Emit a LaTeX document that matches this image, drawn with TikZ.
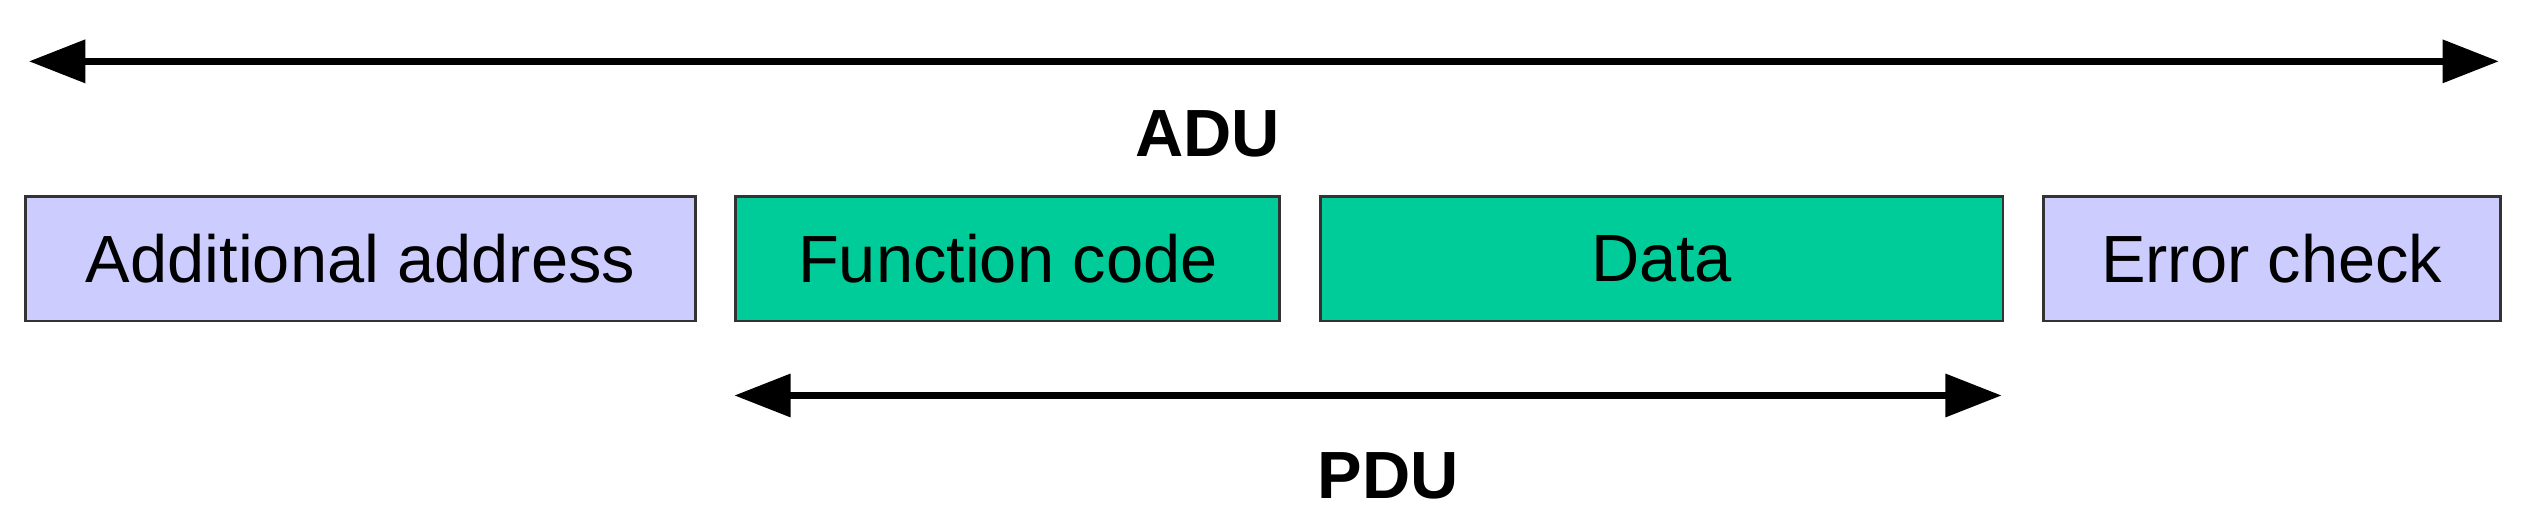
\documentclass[tikz,border=0pt]{standalone}
\usepackage{fontspec}
\setmainfont{Liberation Sans}
\usetikzlibrary{arrows.meta}
\definecolor{lav}{HTML}{CCCCFF}
\definecolor{grn}{HTML}{00CC99}
\begin{document}
\begin{tikzpicture}[x=0.01614cm,y=-0.01614cm,
  box/.style={draw=black!80,line width=0.8pt,inner sep=0pt,anchor=north west,font=\fontsize{19}{22}\selectfont},
  arr/.style={line width=1.8pt,{Triangle[length=16pt,width=12pt]}-{Triangle[length=16pt,width=12pt]}},
  lbl/.style={font=\fontsize{19}{22}\selectfont\bfseries}]
\useasboundingbox (0,0) rectangle (1568,329);
\node[box,fill=lav,minimum width=415\pgflinewidth/\pgflinewidth*0.01614cm,minimum height=77*0.01614cm] (a) at (15,121) {};
\node[box,fill=grn,minimum width=337*0.01614cm,minimum height=77*0.01614cm] (f) at (455,121) {};
\node[box,fill=grn,minimum width=423*0.01614cm,minimum height=77*0.01614cm] (d) at (817,121) {};
\node[box,fill=lav,minimum width=283*0.01614cm,minimum height=77*0.01614cm] (e) at (1265,121) {};
\node[font=\fontsize{19}{22}\selectfont] (ta) at (a.center) {Additional address};
\node[font=\fontsize{19}{22}\selectfont] (tf) at (f.center) {Function code};
\node[font=\fontsize{19}{22}\selectfont] (td) at (d.center) {Data};
\node[font=\fontsize{19}{22}\selectfont] (te) at (e.center) {Error check};
\coordinate (l1) at (18,38); \coordinate (r1) at (1548,38);
\coordinate (l2) at (455,245); \coordinate (r2) at (1240,245);
\draw[arr] (l1) -- (r1);
\draw[arr] (l2) -- (r2);
\node[lbl] (adu) at (748,83) {ADU};
\node[lbl] (pdu) at (860,295) {PDU};
\end{tikzpicture}
\end{document}
